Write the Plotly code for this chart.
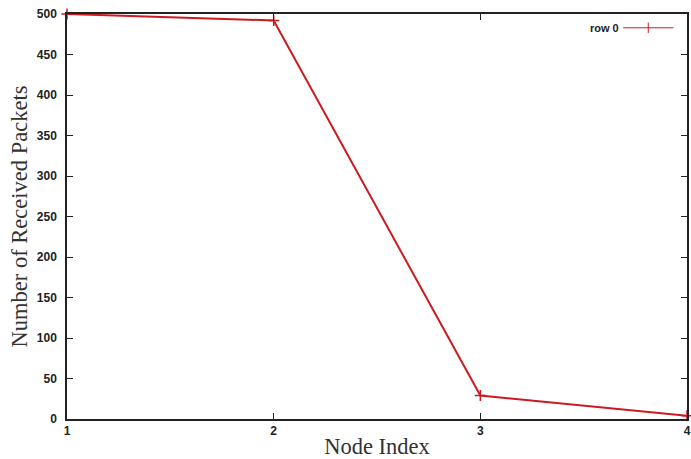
import plotly.graph_objects as go

node_index = [1, 2, 3, 4]
received_packets = [500, 492, 29, 4]
series_name = "row 0"
x_ticks = [1, 2, 3, 4]
y_ticks = [0, 50, 100, 150, 200, 250, 300, 350, 400, 450, 500]

RED = "#cc1a22"

fig = go.Figure()
fig.add_trace(go.Scatter(
    x=node_index, y=received_packets, mode="lines+markers", name=series_name,
    line=dict(color=RED, width=2),
    marker=dict(symbol="cross-thin", size=8, line=dict(color=RED, width=1.5)),
    showlegend=False, cliponaxis=False,
))

tick_font = dict(family="Liberation Sans", size=12, color="#222")
title_font = dict(family="Liberation Serif", size=22.5, color="#333")

fig.update_layout(
    width=691, height=459,
    margin=dict(l=67, r=4, t=14, b=40),
    paper_bgcolor="white", plot_bgcolor="white",
    xaxis=dict(
        range=[1, 4], tickvals=x_ticks, ticktext=[f"<b>{v}</b>" for v in x_ticks],
        showgrid=False, zeroline=False, showline=True, linecolor="#222", linewidth=1.5,
        mirror="ticks", ticks="inside", ticklen=6, tickcolor="#222", tickwidth=1.2,
        tickfont=tick_font, automargin=False,
        title=dict(text="Node Index", font=title_font, standoff=3),
    ),
    yaxis=dict(
        range=[0, 500], tickvals=y_ticks, ticktext=[f"<b>{v}</b>" for v in y_ticks],
        showgrid=False, zeroline=False, showline=True, linecolor="#222", linewidth=1.5,
        mirror="ticks", ticks="inside", ticklen=6, tickcolor="#222", tickwidth=1.2,
        tickfont=tick_font, automargin=False, ticklabelstandoff=6,
        title=dict(text="Number of Received Packets", font=title_font, standoff=3),
    ),
)

# legend entry (text left, sample right, gnuplot style)
fig.add_annotation(xref="paper", yref="paper", x=0.893, y=0.966, xanchor="right", yanchor="middle",
                   text=f"<b>{series_name}</b>", showarrow=False,
                   font=dict(family="Liberation Sans", size=11, color="#222"))
fig.add_shape(type="line", xref="paper", yref="paper", x0=0.897, x1=0.978, y0=0.966, y1=0.966,
              line=dict(color=RED, width=1))
fig.add_shape(type="line", xref="paper", yref="paper", x0=0.9375, x1=0.9375, y0=0.953, y1=0.979,
              line=dict(color=RED, width=1))

fig.write_html("out.html", config={"displayModeBar": False},
               post_script="document.body.style.margin='0';document.body.style.overflow='hidden';")
